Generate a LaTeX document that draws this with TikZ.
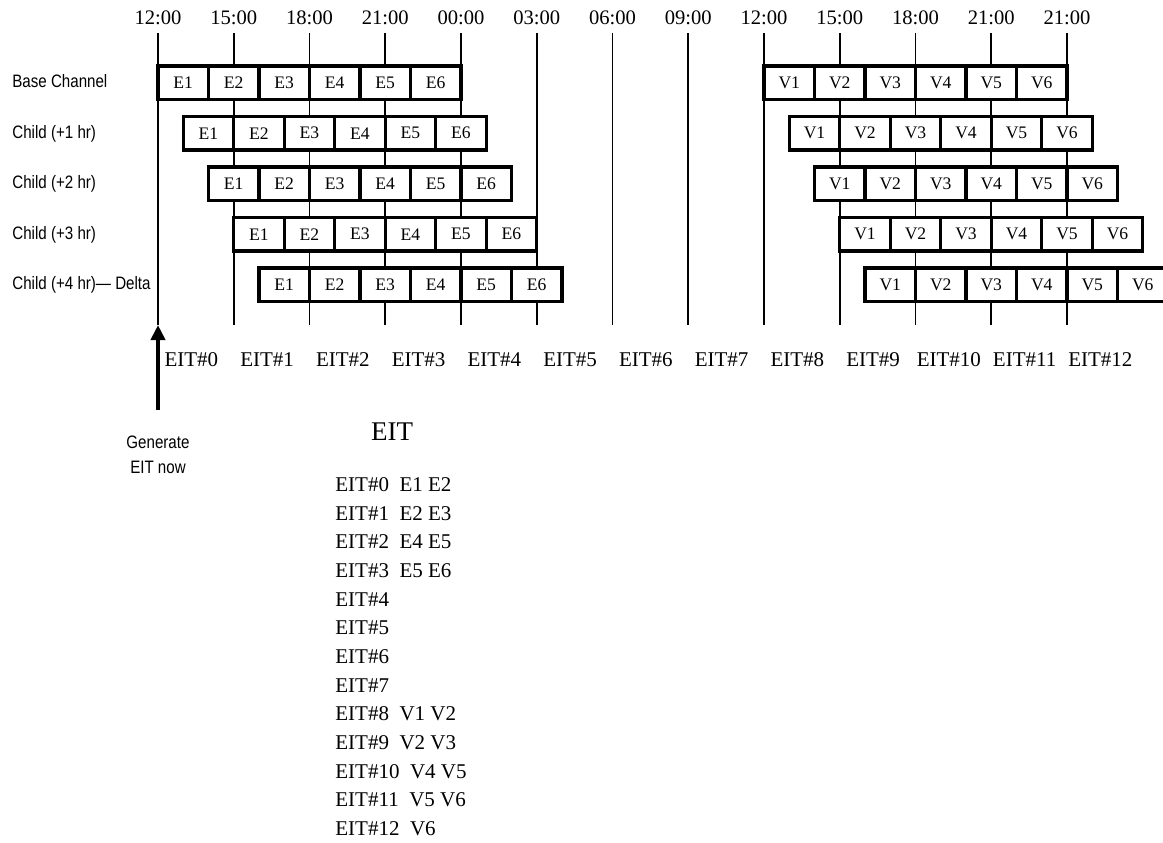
\documentclass[tikz,border=0pt]{standalone}
\usepackage{fontspec}
\setmainfont{Liberation Serif}
\newfontfamily\narrowsf[FakeStretch=0.84]{Liberation Sans}
\usetikzlibrary{arrows.meta}

\tikzset{
	gridline/.style={line width=0.9pt},
	cell/.style={draw, fill=white, line width=1.7pt, minimum width=25.25pt, minimum height=16.75pt,
		inner sep=0pt, outer sep=0pt, anchor=north west, font=\fontsize{8.8}{10}\selectfont},
	timelabel/.style={anchor=base, font=\fontsize{10.3}{12}\selectfont},
	eitlabel/.style={anchor=base, inner xsep=0pt, font=\fontsize{10.5}{12}\selectfont},
	rowlabel/.style={anchor=base west, inner xsep=0pt, font=\narrowsf\fontsize{9}{12.5}\selectfont},
}

\begin{document}
\begin{tikzpicture}[x=0.5pt, y=-0.5pt]
	\clip (0,0) rectangle (1163,842);
	
	%time axis, one line every 3 hours
	\foreach \t [count=\k from 0] in {12:00,15:00,18:00,21:00,00:00,03:00,06:00,09:00,12:00,15:00,18:00,21:00,21:00} {
		\coordinate (top\k) at (158+75.75*\k, 33);
		\coordinate (bot\k) at (158+75.75*\k, 325);
		\draw[gridline] (top\k) -- (bot\k);
		\node[timelabel] (t\k) at (158+75.75*\k, 24) {\t};
		\node[eitlabel] (eit\k) at (191.4+75.75*\k, 366.5) {EIT\#\k};
	}
	
	%channels, each child one hour later
	\foreach \lab [count=\r from 0] in {Base Channel, Child (+1 hr), Child (+2 hr), Child (+3 hr), Child (+4 hr)— Delta} {
		\node[rowlabel] (row\r) at (12, 87.5+50.5*\r) {\lab};
		\foreach \i in {1,...,6} {
			\node[cell] (E\r-\i) at (158+25.25*\r+50.5*\i-50.5, 66+50.5*\r) {E\i};
			\node[cell] (V\r-\i) at (764+25.25*\r+50.5*\i-50.5, 66+50.5*\r) {V\i};
		}
	}
	
	%Generate EIT now
	\coordinate (gen) at (158, 410);
	\draw[line width=2pt, -{Triangle[length=7.5pt, width=7pt]}] (gen) -- (bot0);
	\node[align=center, font=\narrowsf\fontsize{9}{12.5}\selectfont] (genlabel) at (158, 455) {Generate\\EIT now};
	
	%EIT table
	\node[anchor=base, font=\fontsize{13.5}{16}\selectfont] (eittitle) at (392, 440) {EIT};
	\foreach \entry [count=\n from 0] in {EIT\#0\ \ E1 E2, EIT\#1\ \ E2 E3, EIT\#2\ \ E4 E5, EIT\#3\ \ E5 E6,
		EIT\#4, EIT\#5, EIT\#6, EIT\#7, EIT\#8\ \ V1 V2, EIT\#9\ \ V2 V3, EIT\#10\ \ V4 V5, EIT\#11\ \ V5 V6, EIT\#12\ \ V6} {
		\node[eitlabel, anchor=base west] (entry\n) at (335, 491.5+28.67*\n) {\entry};
	}
\end{tikzpicture}
\end{document}
